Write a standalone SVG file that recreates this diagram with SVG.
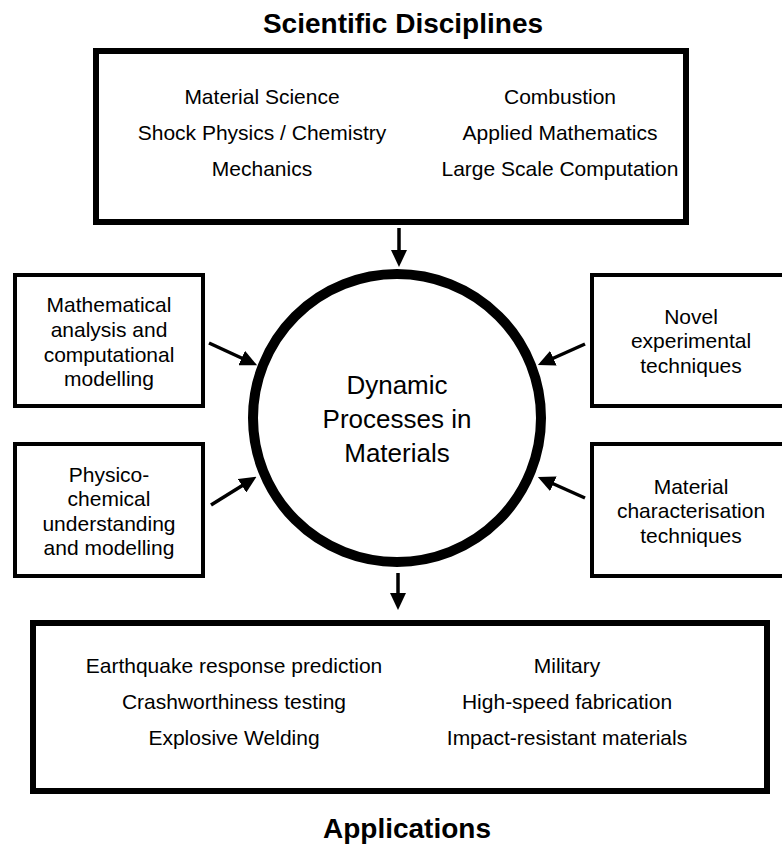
<svg xmlns="http://www.w3.org/2000/svg" width="782" height="846" viewBox="0 0 782 846">
<defs>
<style>
text{font-family:"Liberation Sans",Arial,Helvetica,sans-serif;fill:#000;text-anchor:middle}
.t{font-size:21px}
.c{font-size:26px}
.h{font-size:28px;font-weight:bold}
.box{fill:#fff;stroke:#000;stroke-width:4}
.big{fill:#fff;stroke:#000;stroke-width:6}
.conn line{stroke:#000;stroke-width:3.5;marker-end:url(#ah)}
</style>
<marker id="ah" viewBox="0 0 17 16" refX="7" refY="8" markerWidth="17" markerHeight="16" markerUnits="userSpaceOnUse" orient="auto">
<path d="M0,0 L17,8 L0,16 z" fill="#000"/>
</marker>
</defs>
<rect width="782" height="846" fill="#fff"/>

<g id="disciplines">
<text class="h" x="403" y="33">Scientific Disciplines</text>
<rect class="big" x="96" y="51" width="590" height="171"/>
<text class="t" x="262" y="104">Material Science</text>
<text class="t" x="262" y="140">Shock Physics / Chemistry</text>
<text class="t" x="262" y="176">Mechanics</text>
<text class="t" x="560" y="104">Combustion</text>
<text class="t" x="560" y="140">Applied Mathematics</text>
<text class="t" x="560" y="176">Large Scale Computation</text>
</g>

<g id="core">
<circle cx="397" cy="418" r="144" fill="#fff" stroke="#000" stroke-width="10"/>
<text class="c" x="397" y="394">Dynamic</text>
<text class="c" x="397" y="428">Processes in</text>
<text class="c" x="397" y="462">Materials</text>
</g>

<g id="math">
<rect class="box" x="15" y="275" width="188" height="131"/>
<text class="t" x="109" y="312">Mathematical</text>
<text class="t" x="109" y="337">analysis and</text>
<text class="t" x="109" y="362">computational</text>
<text class="t" x="109" y="386">modelling</text>
</g>

<g id="physchem">
<rect class="box" x="15" y="444" width="188" height="132"/>
<text class="t" x="109" y="482">Physico-</text>
<text class="t" x="109" y="506">chemical</text>
<text class="t" x="109" y="531">understanding</text>
<text class="t" x="109" y="555">and modelling</text>
</g>

<g id="novel">
<rect class="box" x="592" y="275" width="200" height="131"/>
<text class="t" x="691" y="324">Novel</text>
<text class="t" x="691" y="348">experimental</text>
<text class="t" x="691" y="373">techniques</text>
</g>

<g id="charact">
<rect class="box" x="592" y="444" width="200" height="132"/>
<text class="t" x="691" y="494">Material</text>
<text class="t" x="691" y="518">characterisation</text>
<text class="t" x="691" y="543">techniques</text>
</g>

<g id="applications">
<rect class="big" x="33" y="623" width="734" height="168"/>
<text class="t" x="234" y="673">Earthquake response prediction</text>
<text class="t" x="234" y="709">Crashworthiness testing</text>
<text class="t" x="234" y="745">Explosive Welding</text>
<text class="t" x="567" y="673">Military</text>
<text class="t" x="567" y="709">High-speed fabrication</text>
<text class="t" x="567" y="745">Impact-resistant materials</text>
<text class="h" x="407" y="838">Applications</text>
</g>

<g id="connectors" class="conn">
<line x1="399" y1="228" x2="399" y2="257"/>
<line x1="398" y1="573" x2="398" y2="600"/>
<line x1="209" y1="343" x2="248" y2="361"/>
<line x1="211" y1="505" x2="248" y2="482"/>
<line x1="585" y1="344" x2="547" y2="361"/>
<line x1="585" y1="498" x2="547" y2="481"/>
</g>
</svg>
